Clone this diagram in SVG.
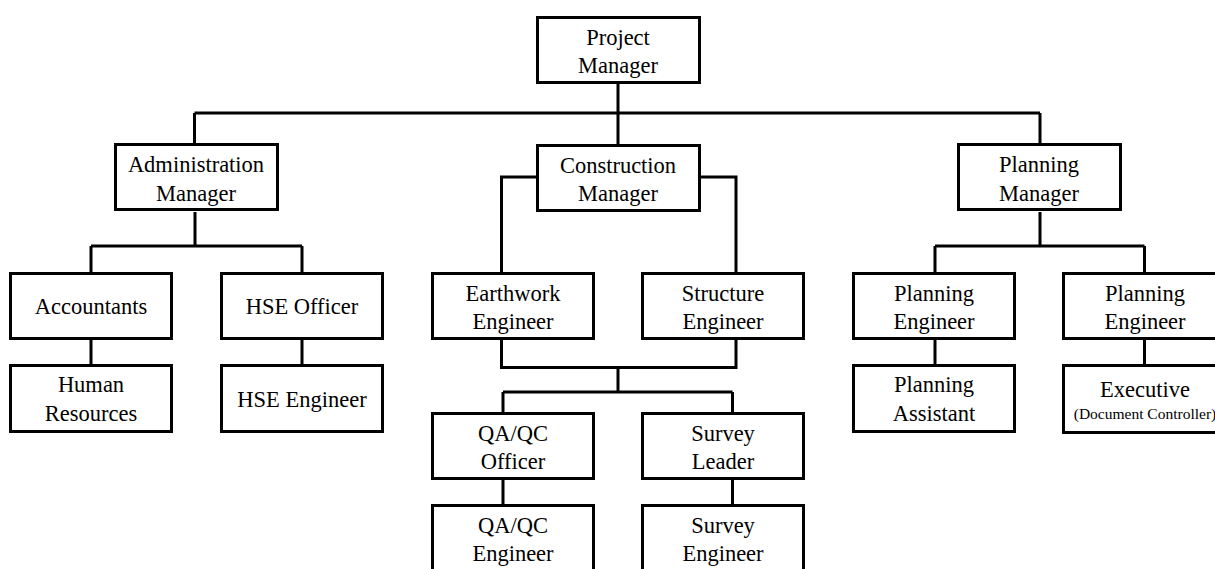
<svg xmlns="http://www.w3.org/2000/svg" width="1215" height="569" viewBox="0 0 1215 569">
<style>
.box{fill:#fff;stroke:#000;stroke-width:3}
#connectors path{fill:none;stroke:#000;stroke-width:3}
</style>
<rect width="1215" height="569" fill="#fff"/>
<g id="connectors">
<path d="M618,84V113M194.5,113H1040M194.5,113V143M618,113V144M1040,113V143"/>
<path d="M195,212V246M91,246H302M91,246V272M302,246V272M91,340V364M302,340V364"/>
<path d="M536,177H501.5V272M701,177H736V272"/>
<path d="M501.5,340V367.5H736V340M618,367.5V392M503,392H732.5M503,392V412M732.5,392V412M503,480V504M732.5,480V504"/>
<path d="M1040,212V246M935,246H1144.5M935,246V272M1144.5,246V272M935,340V364M1144.5,340V364"/>
</g>
<g font-family="Liberation Serif" font-size="22.5" text-anchor="middle" fill="#000">
<g id="project-manager"><rect class="box" x="537.5" y="17.5" width="162" height="65"/><text x="618" y="44.5">Project</text><text x="618" y="73">Manager</text></g>
<g id="administration-manager"><rect class="box" x="115.5" y="144.5" width="162" height="65"/><text x="196" y="172">Administration</text><text x="196" y="200.5">Manager</text></g>
<g id="construction-manager"><rect class="box" x="537.5" y="145.5" width="162" height="65"/><text x="618" y="172.5">Construction</text><text x="618" y="201">Manager</text></g>
<g id="planning-manager"><rect class="box" x="958.5" y="144.5" width="162" height="65"/><text x="1039" y="172">Planning</text><text x="1039" y="200.5">Manager</text></g>
<g id="accountants"><rect class="box" x="10.5" y="273.5" width="161" height="65"/><text x="91" y="313.5">Accountants</text></g>
<g id="hse-officer"><rect class="box" x="221.5" y="273.5" width="161" height="65"/><text x="302" y="313.5">HSE Officer</text></g>
<g id="earthwork-engineer"><rect class="box" x="432.5" y="273.5" width="161" height="65"/><text x="513" y="300.5">Earthwork</text><text x="513" y="329">Engineer</text></g>
<g id="structure-engineer"><rect class="box" x="642.5" y="273.5" width="161" height="65"/><text x="723" y="300.5">Structure</text><text x="723" y="329">Engineer</text></g>
<g id="planning-engineer-1"><rect class="box" x="853.5" y="273.5" width="161" height="65"/><text x="934" y="300.5">Planning</text><text x="934" y="329">Engineer</text></g>
<g id="planning-engineer-2"><rect class="box" x="1063.5" y="273.5" width="161" height="65"/><text x="1145" y="300.5">Planning</text><text x="1145" y="329">Engineer</text></g>
<g id="human-resources"><rect class="box" x="10.5" y="365.5" width="161" height="66"/><text x="91" y="392">Human</text><text x="91" y="421">Resources</text></g>
<g id="hse-engineer"><rect class="box" x="221.5" y="365.5" width="161" height="66"/><text x="302" y="406.5">HSE Engineer</text></g>
<g id="planning-assistant"><rect class="box" x="853.5" y="365.5" width="161" height="66"/><text x="934" y="392">Planning</text><text x="934" y="421">Assistant</text></g>
<g id="executive"><rect class="box" x="1063.5" y="365.5" width="161" height="67"/><text x="1145" y="396.5">Executive</text><text x="1145" y="418.5" font-size="15.5">(Document Controller)</text></g>
<g id="qaqc-officer"><rect class="box" x="432.5" y="413.5" width="161" height="65"/><text x="513" y="440.5">QA/QC</text><text x="513" y="469">Officer</text></g>
<g id="survey-leader"><rect class="box" x="642.5" y="413.5" width="161" height="65"/><text x="723" y="440.5">Survey</text><text x="723" y="469">Leader</text></g>
<g id="qaqc-engineer"><rect class="box" x="432.5" y="505.5" width="161" height="80"/><text x="513" y="532.5">QA/QC</text><text x="513" y="561">Engineer</text></g>
<g id="survey-engineer"><rect class="box" x="642.5" y="505.5" width="161" height="80"/><text x="723" y="532.5">Survey</text><text x="723" y="561">Engineer</text></g>
</g>
</svg>
